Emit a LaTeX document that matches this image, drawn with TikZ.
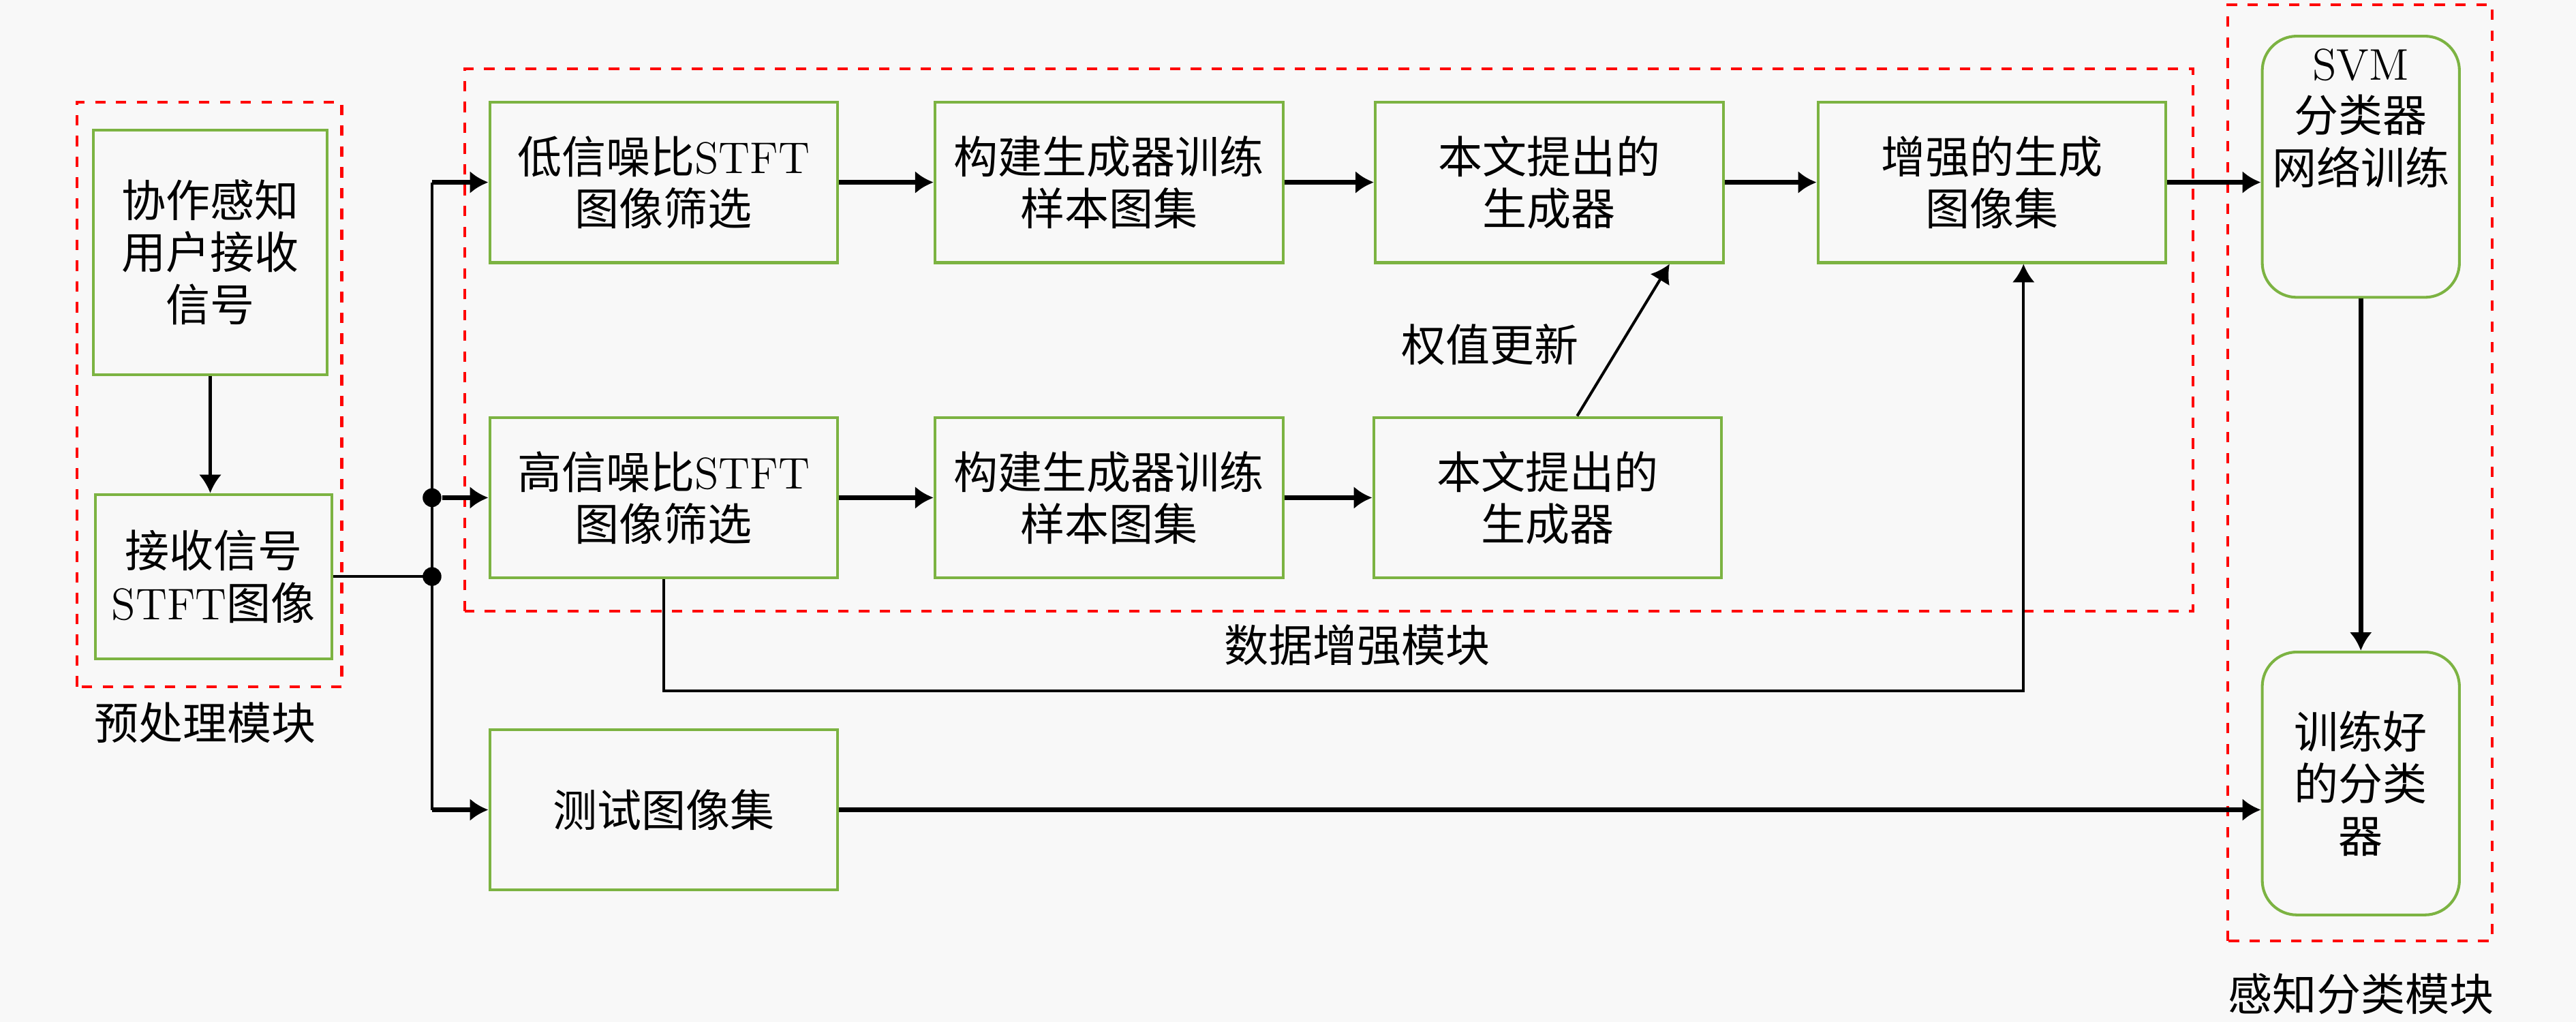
\documentclass[tikz,border=0pt]{standalone}
\usepackage{fontspec}
\newfontfamily\cjk{Noto Sans CJK SC}
\usepackage{tikz}
\usetikzlibrary{arrows.meta, positioning, calc}
\definecolor{bgpaper}{HTML}{F8F8F8}
\definecolor{boxgreen}{HTML}{7CB342}
\definecolor{modred}{HTML}{FF0000}
\tikzset{
  stepbox/.style={draw=boxgreen, line width=0.8pt, minimum width=3.53cm,
                  minimum height=1.63cm, align=center, inner sep=2pt},
  classbox/.style={draw=boxgreen, line width=0.8pt, rounded corners=0.35cm,
                   minimum width=2.0cm, minimum height=2.65cm, align=center, inner sep=2pt},
  modframe/.style={draw=modred, dashed, line width=0.8pt},
  arr/.style={-{Latex[length=5.3pt, width=6.5pt]}, line width=1.3pt},
  tarr/.style={-{Latex[length=5.3pt, width=6.5pt]}, line width=0.8pt},
  busline/.style={line width=0.9pt},
  junction/.style={circle, fill=black, inner sep=0pt, minimum size=0.19cm},
}

\begin{document}
\begin{tikzpicture}[every node/.style={font=\cjk\fontsize{12.8}{15}\selectfont}]

  %% background and page size
  \fill[bgpaper] (0,0) rectangle (26.133,10.367);
  \useasboundingbox (0,0) rectangle (26.133,10.367);

  %% ── module frames ──
  \draw[modframe] (0.783,3.4) rectangle (3.467,9.333);
  \draw[modframe] (4.717,4.167) rectangle (22.25,9.667);
  \draw[modframe] (22.6,0.817) rectangle (25.283,10.317);

  \node (prelbl) at (2.083,3.033) {预处理模块};
  \node (auglbl) at (13.767,3.817) {数据增强模块};
  \node (clslbl) at (23.95,0.283) {感知分类模块};

  %% ── preprocessing ──
  \node[stepbox, minimum width=2.367cm, minimum height=2.483cm] (recv) at (2.133,7.808)
    {协作感知\\用户接收\\信号};
  \node[stepbox, minimum width=2.4cm, minimum height=1.667cm] (stft) at (2.167,4.517)
    {接收信号\\{\rmfamily STFT}图像};

  %% ── data augmentation, upper row ──
  \node[stepbox] (low)  at (6.733,8.517)  {低信噪比{\rmfamily STFT}\\图像筛选};
  \node[stepbox] (set1) at (11.25,8.517)  {构建生成器训练\\样本图集};
  \node[stepbox] (gen1) at (15.717,8.517) {本文提出的\\生成器};
  \node[stepbox] (aug)  at (20.208,8.517) {增强的生成\\图像集};

  %% ── data augmentation, lower row ──
  \node[stepbox] (high) at (6.733,5.317) {高信噪比{\rmfamily STFT}\\图像筛选};
  \node[stepbox] (set2) at (11.25,5.317) {构建生成器训练\\样本图集};
  \node[stepbox] (gen2) at (15.7,5.317)  {本文提出的\\生成器};

  %% ── test set ──
  \node[stepbox] (test) at (6.733,2.15) {测试图像集};

  %% ── classification ──
  \node[classbox] (svm) at (23.95,8.675) {};
  \node[align=center] (svmtxt) at (23.95,9.167) {{\rmfamily SVM}\\分类器\\网络训练};
  \node[classbox, minimum height=2.667cm] (clf) at (23.95,2.417) {训练好\\的分类\\器};

  %% ── connectors ──
  \draw[tarr] (recv.south) -- (recv.south |- stft.north);

  \coordinate (busx) at (4.383,0);
  \coordinate (jin) at (busx |- stft.east);
  \draw[busline] (busx |- low.west) -- (busx |- test.west);
  \draw[busline] (stft.east) -- (jin);
  \node[junction] (jhigh) at (busx |- high.west) {};
  \node[junction] (jstft) at (jin) {};
  \draw[arr] (busx |- low.west) -- (low.west);
  \draw[arr] (jhigh) -- (high.west);
  \draw[arr] (busx |- test.west) -- (test.west);

  \draw[arr] (low) -- (set1);
  \draw[arr] (set1) -- (gen1);
  \draw[arr] (gen1) -- (aug);
  \draw[arr] (high) -- (set2);
  \draw[arr] (set2) -- (gen2);

  %% weight update
  \draw[tarr] ($(gen2.north)+(0.3,0)$) -- ($(gen1.south)+(1.22,0)$);
  \node (wlbl) at (15.117,6.867) {权值更新};

  %% high-SNR images straight to the augmented set
  \coordinate (augin) at ($(aug.south)+(0.32,0)$);
  \draw[tarr] (high.south) -- ++(0,-1.13) -| (augin);

  \draw[arr] (aug.east) -- (svm.west |- aug.east);
  \draw[arr] (test.east) -- (clf.west |- test.east);
  \draw[arr] (svm.south) -- (clf.north);

\end{tikzpicture}
\end{document}
